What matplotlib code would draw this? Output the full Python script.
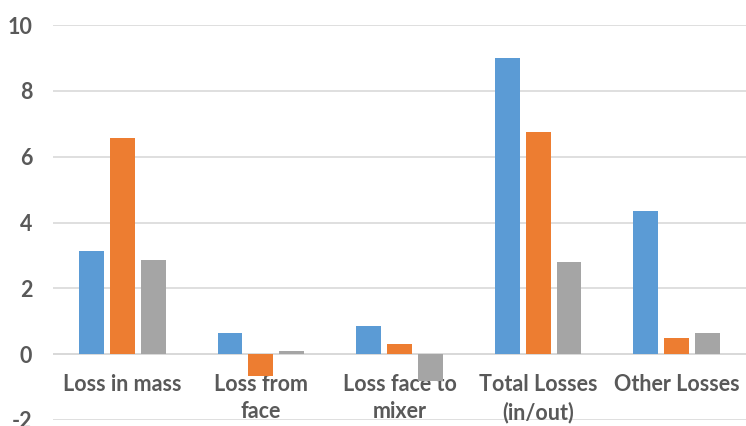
import matplotlib
matplotlib.use("Agg")
import matplotlib.pyplot as plt
import numpy as np

categories = ["Loss in mass", "Loss from\nface", "Loss face to\nmixer",
              "Total Losses\n(in/out)", "Other Losses"]
series_blue = [3.14, 0.64, 0.86, 9.01, 4.34]
series_orange = [6.56, -0.67, 0.31, 6.75, 0.50]
series_gray = [2.87, 0.09, -0.81, 2.81, 0.64]
y_ticks = [-2, 0, 2, 4, 6, 8, 10]

colors = ["#5B9BD5", "#ED7D31", "#A5A5A5"]
text_color = "#595959"
font = "Lato"
fsize = 15.5

fig = plt.figure(figsize=(7.46, 4.26), dpi=100)
ax = fig.add_axes([53 / 746, 1 - 420 / 426, 693 / 746, (420 - 25) / 426])

x = np.arange(len(categories))
width = 0.18
step = 0.223
for i, (vals, c) in enumerate(zip([series_blue, series_orange, series_gray], colors)):
    ax.bar(x + (i - 1) * step, vals, width=width, color=c, zorder=4)

ax.set_xlim(-0.5, len(categories) - 0.5)
ax.set_ylim(-2, 10)
ax.set_yticks(y_ticks)
ax.set_yticklabels([str(t) for t in y_ticks], fontsize=fsize, fontweight="bold",
                   color=text_color, family=font)
ax.tick_params(axis="y", length=0, pad=15)
ax.tick_params(axis="x", length=0)
ax.yaxis.grid(True, color="#D9D9D9", linewidth=1.2, zorder=0)
ax.set_xticks([])
for s in ["top", "right", "left", "bottom"]:
    ax.spines[s].set_visible(False)
ax.axhline(0, color="#D9D9D9", linewidth=1.4, zorder=2)

for xi, lab in zip(x, categories):
    ax.annotate(lab, xy=(xi, 0), xytext=(0, -14), textcoords="offset points",
                ha="center", va="top", fontsize=fsize, fontweight="bold",
                color=text_color, family=font, linespacing=1.4, zorder=3)

fig.savefig("out.png", dpi=100)
